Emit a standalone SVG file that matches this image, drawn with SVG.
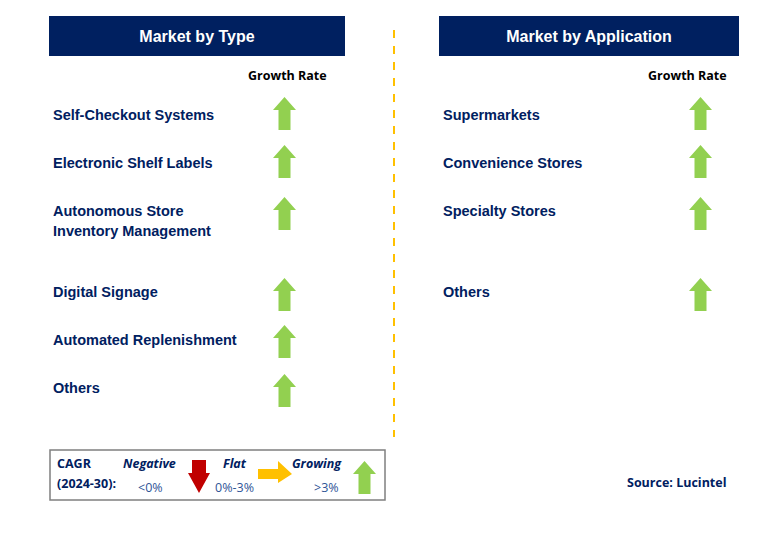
<svg xmlns="http://www.w3.org/2000/svg" width="766" height="533" viewBox="0 0 766 533">
<defs>
<style>
.hdr{fill:#002060}
.ht{font-family:"Liberation Sans",Arial,sans-serif;font-weight:bold;font-size:16px;fill:#fff;text-anchor:middle}
.gr{font-family:"Open Sans","Liberation Sans",sans-serif;font-weight:bold;font-size:12.5px;fill:#000}
.lb{font-family:"Liberation Sans",Arial,sans-serif;font-weight:bold;font-size:14.5px;fill:#002060}
.up{fill:#92D050}
.lg{font-family:"Open Sans","Liberation Sans",sans-serif;font-weight:bold;font-size:12.5px;fill:#002060}
.lgi{font-family:"Open Sans","Liberation Sans",sans-serif;font-weight:bold;font-style:italic;font-size:12.5px;fill:#002060}
.lv{font-family:"Open Sans","Liberation Sans",sans-serif;font-size:12.5px;fill:#2F5597}
</style>
<path id="ua" d="M11.5 0 L23 13 L17.5 13 L17.5 33 L5.5 33 L5.5 13 L0 13 Z"/>
</defs>
<rect width="766" height="533" fill="#fff"/>
<g id="connectors">
<line x1="394" y1="30" x2="394" y2="437" stroke="#FFC000" stroke-width="2" stroke-dasharray="8,8"/>
</g>
<g id="header-type">
<rect class="hdr" x="49" y="16" width="296" height="40"/>
<text class="ht" x="197" y="42">Market by Type</text>
<text class="gr" x="248" y="80">Growth Rate</text>
</g>
<g id="header-app">
<rect class="hdr" x="439" y="16" width="300" height="40"/>
<text class="ht" x="589" y="42">Market by Application</text>
<text class="gr" x="648" y="80">Growth Rate</text>
</g>
<g id="t1"><text class="lb" x="53" y="120">Self-Checkout Systems</text><use href="#ua" class="up" x="273" y="97"/></g>
<g id="t2"><text class="lb" x="53" y="168">Electronic Shelf Labels</text><use href="#ua" class="up" x="273" y="145"/></g>
<g id="t3"><text class="lb" x="53" y="216">Autonomous Store</text><text class="lb" x="53" y="236">Inventory Management</text><use href="#ua" class="up" x="273" y="197"/></g>
<g id="t4"><text class="lb" x="53" y="297">Digital Signage</text><use href="#ua" class="up" x="273" y="278"/></g>
<g id="t5"><text class="lb" x="53" y="345">Automated Replenishment</text><use href="#ua" class="up" x="273" y="325"/></g>
<g id="t6"><text class="lb" x="53" y="393">Others</text><use href="#ua" class="up" x="273" y="374"/></g>
<g id="a1"><text class="lb" x="443" y="120">Supermarkets</text><use href="#ua" class="up" x="689" y="97"/></g>
<g id="a2"><text class="lb" x="443" y="168">Convenience Stores</text><use href="#ua" class="up" x="689" y="145"/></g>
<g id="a3"><text class="lb" x="443" y="216">Specialty Stores</text><use href="#ua" class="up" x="689" y="197"/></g>
<g id="a4"><text class="lb" x="443" y="297">Others</text><use href="#ua" class="up" x="689" y="278"/></g>
<g id="legend">
<rect x="50" y="450" width="335" height="50" fill="#fff" stroke="#7F7F7F" stroke-width="1.5"/>
<text class="lg" x="57" y="468">CAGR</text>
<text class="lg" x="57" y="488">(2024-30):</text>
<text class="lgi" x="123" y="468">Negative</text>
<text class="lv" x="138" y="492">&lt;0%</text>
<path d="M192 460 L206 460 L206 473 L210 473 L199 493 L188 473 L192 473 Z" fill="#C00000"/>
<text class="lgi" x="223" y="468">Flat</text>
<text class="lv" x="215" y="492">0%-3%</text>
<path d="M258 469 L278 469 L278 461 L292 474 L278 483 L278 479 L258 479 Z" fill="#FFC000"/>
<text class="lgi" x="292" y="468">Growing</text>
<text class="lv" x="314" y="492">&gt;3%</text>
<use href="#ua" class="up" x="353" y="461" transform="translate(0,0)"/>
</g>
<g id="source"><text class="lg" x="627" y="487">Source: Lucintel</text></g>
</svg>
